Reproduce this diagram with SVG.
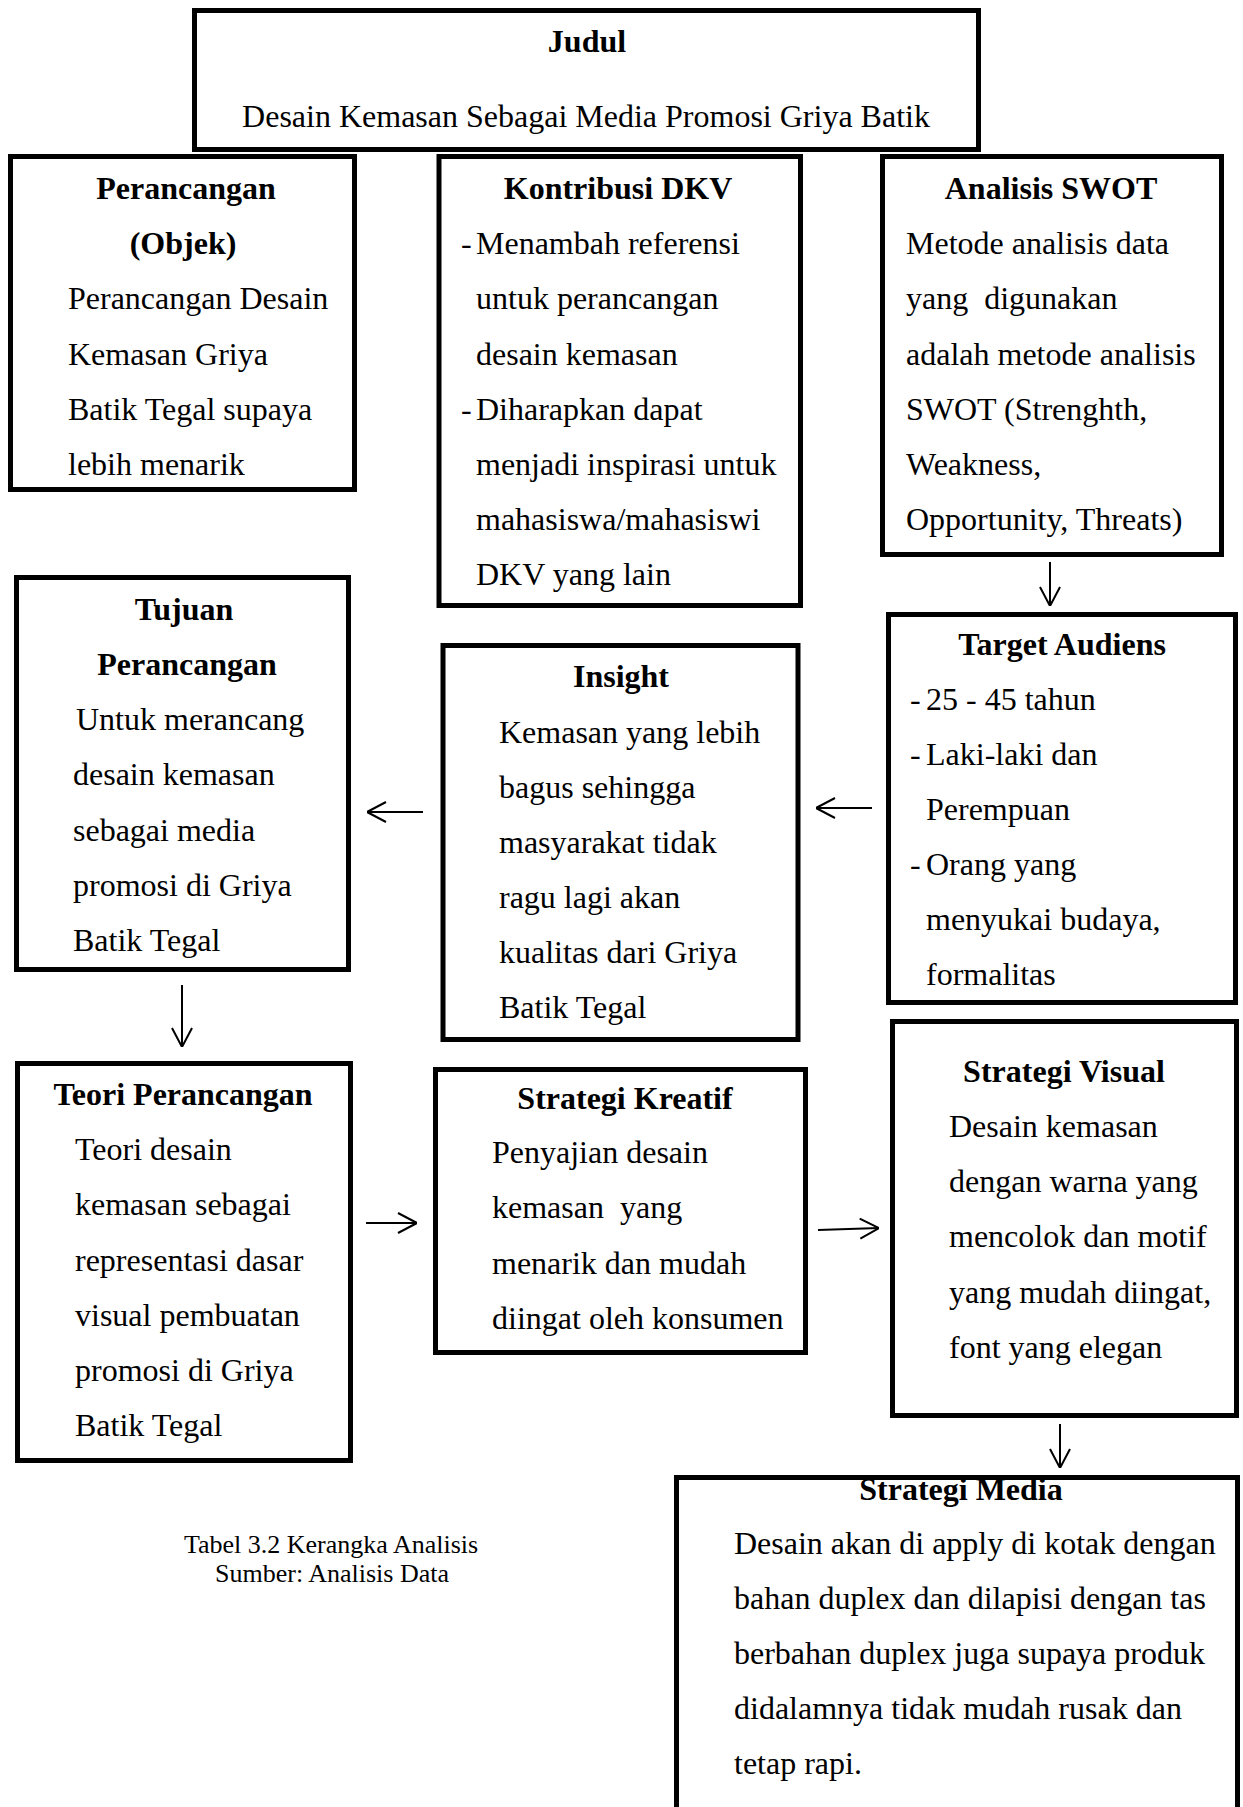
<svg xmlns="http://www.w3.org/2000/svg" width="1243" height="1807" viewBox="0 0 1243 1807">
<style>
  .box { fill: #ffffff; stroke: #000000; stroke-width: 5; }
  .t { font-family: "Liberation Serif", "Times New Roman", serif; font-size: 32px; fill: #000000; }
  .b { font-weight: bold; text-anchor: middle; }
  .cap { font-family: "Liberation Serif", "Times New Roman", serif; font-size: 26px; fill: #000000; text-anchor: middle; }
  .conn { fill: none; stroke: #000000; stroke-width: 2; }
</style>
<defs>
  <marker id="head" viewBox="0 0 20 22" refX="20" refY="11" markerWidth="20" markerHeight="22" markerUnits="userSpaceOnUse" orient="auto">
    <path d="M1,1 L20,11 L1,21" fill="none" stroke="#000000" stroke-width="2"/>
  </marker>
</defs>
<rect width="1243" height="1807" fill="#ffffff"/>

<g id="judul">
  <rect class="box" x="194.5" y="10.5" width="784" height="139"/>
  <text class="t b" x="587" y="52">Judul</text>
  <text class="t" x="586" y="127" text-anchor="middle">Desain Kemasan Sebagai Media Promosi Griya Batik</text>
</g>

<g id="perancangan-objek">
  <rect class="box" x="10.5" y="156.5" width="344" height="333"/>
  <text class="t b" x="186" y="199">Perancangan</text>
  <text class="t b" x="183" y="254">(Objek)</text>
  <text class="t" x="68" y="309">Perancangan Desain</text>
  <text class="t" x="68" y="365">Kemasan Griya</text>
  <text class="t" x="68" y="420">Batik Tegal supaya</text>
  <text class="t" x="68" y="475">lebih menarik</text>
</g>

<g id="kontribusi-dkv">
  <rect class="box" x="439" y="156.5" width="361.5" height="449"/>
  <text class="t b" x="618" y="199">Kontribusi DKV</text>
  <text class="t" x="461" y="254">-</text>
  <text class="t" x="476" y="254">Menambah referensi</text>
  <text class="t" x="476" y="309">untuk perancangan</text>
  <text class="t" x="476" y="365">desain kemasan</text>
  <text class="t" x="461" y="420">-</text>
  <text class="t" x="476" y="420">Diharapkan dapat</text>
  <text class="t" x="476" y="475">menjadi inspirasi untuk</text>
  <text class="t" x="476" y="530">mahasiswa/mahasiswi</text>
  <text class="t" x="476" y="585">DKV yang lain</text>
</g>

<g id="analisis-swot">
  <rect class="box" x="882.5" y="156.5" width="339" height="398"/>
  <text class="t b" x="1051" y="199">Analisis SWOT</text>
  <text class="t" x="906" y="254">Metode analisis data</text>
  <text class="t" x="906" y="309" xml:space="preserve">yang  digunakan</text>
  <text class="t" x="906" y="365">adalah metode analisis</text>
  <text class="t" x="906" y="420">SWOT (Strenghth,</text>
  <text class="t" x="906" y="475">Weakness,</text>
  <text class="t" x="906" y="530">Opportunity, Threats)</text>
</g>

<g id="tujuan-perancangan">
  <rect class="box" x="16.5" y="577.5" width="332" height="392"/>
  <text class="t b" x="184" y="620">Tujuan</text>
  <text class="t b" x="187" y="675">Perancangan</text>
  <text class="t" x="76" y="730">Untuk merancang</text>
  <text class="t" x="73" y="785">desain kemasan</text>
  <text class="t" x="73" y="841">sebagai media</text>
  <text class="t" x="73" y="896">promosi di Griya</text>
  <text class="t" x="73" y="951">Batik Tegal</text>
</g>

<g id="insight">
  <rect class="box" x="443" y="645.5" width="355" height="394"/>
  <text class="t b" x="621" y="687">Insight</text>
  <text class="t" x="499" y="743">Kemasan yang lebih</text>
  <text class="t" x="499" y="798">bagus sehingga</text>
  <text class="t" x="499" y="853">masyarakat tidak</text>
  <text class="t" x="499" y="908">ragu lagi akan</text>
  <text class="t" x="499" y="963">kualitas dari Griya</text>
  <text class="t" x="499" y="1018">Batik Tegal</text>
</g>

<g id="target-audiens">
  <rect class="box" x="888.5" y="614.5" width="347" height="388"/>
  <text class="t b" x="1062" y="655">Target Audiens</text>
  <text class="t" x="910" y="710">-</text>
  <text class="t" x="926" y="710">25 - 45 tahun</text>
  <text class="t" x="910" y="765">-</text>
  <text class="t" x="926" y="765">Laki-laki dan</text>
  <text class="t" x="926" y="820">Perempuan</text>
  <text class="t" x="910" y="875">-</text>
  <text class="t" x="926" y="875">Orang yang</text>
  <text class="t" x="926" y="930">menyukai budaya,</text>
  <text class="t" x="926" y="985">formalitas</text>
</g>

<g id="teori-perancangan">
  <rect class="box" x="17.5" y="1063.5" width="333" height="397"/>
  <text class="t b" x="183" y="1105">Teori Perancangan</text>
  <text class="t" x="75" y="1160">Teori desain</text>
  <text class="t" x="75" y="1215">kemasan sebagai</text>
  <text class="t" x="75" y="1271">representasi dasar</text>
  <text class="t" x="75" y="1326">visual pembuatan</text>
  <text class="t" x="75" y="1381">promosi di Griya</text>
  <text class="t" x="75" y="1436">Batik Tegal</text>
</g>

<g id="strategi-kreatif">
  <rect class="box" x="435.5" y="1069.5" width="370" height="283"/>
  <text class="t b" x="625" y="1109">Strategi Kreatif</text>
  <text class="t" x="492" y="1163">Penyajian desain</text>
  <text class="t" x="492" y="1218" xml:space="preserve">kemasan  yang</text>
  <text class="t" x="492" y="1274">menarik dan mudah</text>
  <text class="t" x="492" y="1329">diingat oleh konsumen</text>
</g>

<g id="strategi-visual">
  <rect class="box" x="892.5" y="1021.5" width="344" height="394"/>
  <text class="t b" x="1064" y="1082">Strategi Visual</text>
  <text class="t" x="949" y="1137">Desain kemasan</text>
  <text class="t" x="949" y="1192">dengan warna yang</text>
  <text class="t" x="949" y="1247">mencolok dan motif</text>
  <text class="t" x="949" y="1303">yang mudah diingat,</text>
  <text class="t" x="949" y="1358">font yang elegan</text>
</g>

<g id="strategi-media">
  <rect class="box" x="676.5" y="1477.5" width="561" height="400"/>
  <text class="t b" x="961" y="1500">Strategi Media</text>
  <text class="t" x="734" y="1554">Desain akan di apply di kotak dengan</text>
  <text class="t" x="734" y="1609">bahan duplex dan dilapisi dengan tas</text>
  <text class="t" x="734" y="1664">berbahan duplex juga supaya produk</text>
  <text class="t" x="734" y="1719">didalamnya tidak mudah rusak dan</text>
  <text class="t" x="734" y="1774">tetap rapi.</text>
</g>

<g id="caption">
  <text class="cap" x="331" y="1553">Tabel 3.2 Kerangka Analisis</text>
  <text class="cap" x="332" y="1582">Sumber: Analisis Data</text>
</g>

<g id="connectors">
  <path class="conn" d="M1050,562 L1050,606" marker-end="url(#head)"/>
  <path class="conn" d="M872,808 L816,808" marker-end="url(#head)"/>
  <path class="conn" d="M423,812 L367,812" marker-end="url(#head)"/>
  <path class="conn" d="M182,985 L182,1047" marker-end="url(#head)"/>
  <path class="conn" d="M366,1223 L417,1223" marker-end="url(#head)"/>
  <path class="conn" d="M818,1230 L879,1228" marker-end="url(#head)"/>
  <path class="conn" d="M1060,1424 L1060,1468" marker-end="url(#head)"/>
</g>
</svg>
